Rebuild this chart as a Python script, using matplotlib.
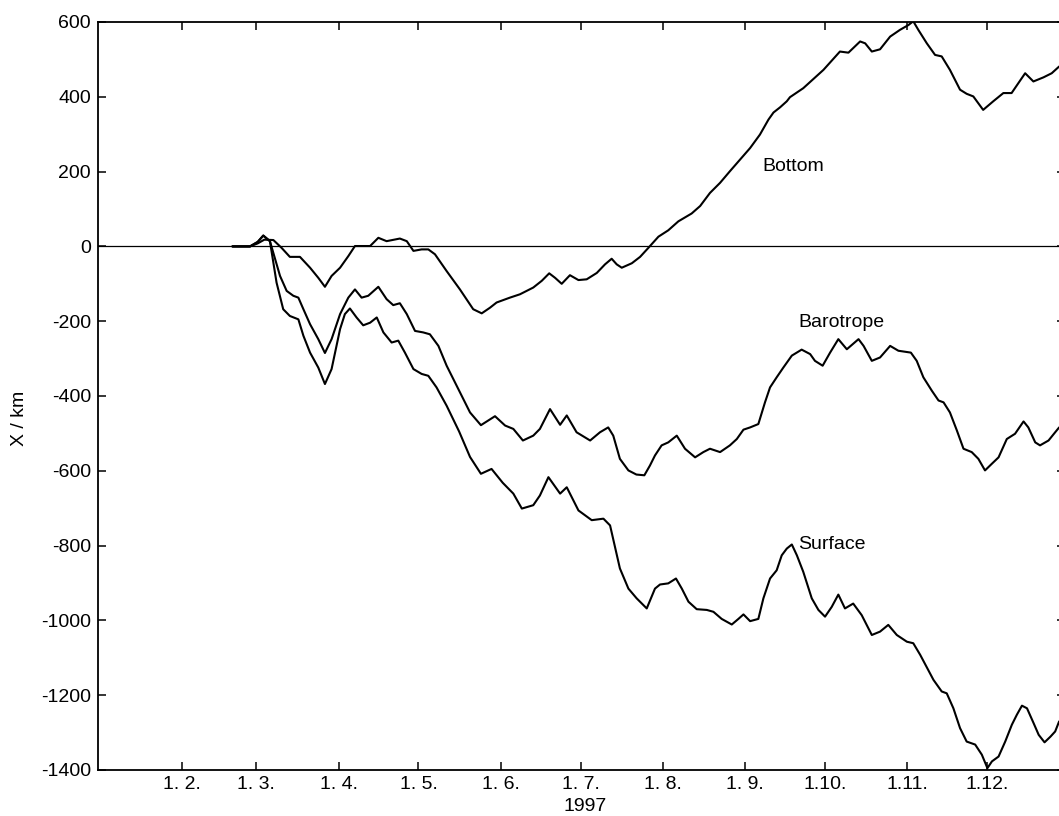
import matplotlib
matplotlib.use('Agg')
import matplotlib.pyplot as plt

# day of year 1997 (0 = 1 Jan), displacement X in km
bottom_day = [50, 56.6, 59.5, 62, 65.4, 68.5, 71.6, 75.4, 79.2, 82.3, 84.8, 87.3, 90.5, 93.6, 96.1,
              101.8, 104.9, 108.0, 113.0, 115.6, 118.1, 121.2, 123.7, 126.2, 130.6, 135.6, 140.6,
              143.8, 146.9, 149.4, 154.4, 158.2, 163.2, 166.4, 169.2, 171.4, 173.9, 177.0, 180.2,
              183.3, 187.1, 190.2, 192.7, 194.6, 196.5, 200.3, 203.4, 206.5, 210.3, 214.0, 217.8,
              222.8, 226.0, 229.7, 233.5, 237.2, 241.0, 244.8, 248.5, 251.7, 253.6, 256.1, 258.6,
              259.8, 264.8, 272.4, 278.6, 281.8, 286.2, 288.1, 290.6, 293.7, 297.5, 301.2, 304.4,
              306.2, 308.1, 311.3, 314.4, 316.9, 320.0, 323.8, 326.3, 328.8, 332.5, 336.3, 340.1,
              343.2, 345.7, 348.3, 351.4, 355.2, 358.3, 361.1]
bottom_x = [0, 0, 8, 18, 17, -4, -28, -28, -57, -84, -108, -79, -57, -26, 1,
            1, 23, 14, 21, 14, -12, -8, -8, -21, -66, -115, -168,
            -179, -164, -150, -137, -128, -110, -92, -72, -84, -100, -77, -90,
            -88, -71, -48, -33, -48, -57, -45, -28, -4, 26, 43, 67,
            88, 108, 143, 170, 201, 232, 263, 299, 339, 358, 372, 388,
            399, 423, 472, 521, 518, 548, 543, 521, 527, 561, 579, 592,
            602, 579, 543, 512, 508, 472, 419, 408, 401, 365, 388, 410,
            410, 436, 463, 441, 452, 463, 481]

baro_day = [50, 56.6, 59.5, 61.6, 64.1, 67.9, 70.4, 72.9, 74.8, 76.7, 79.2, 82.3, 84.8, 87.3, 90.5,
            93.6, 96.1, 98.6, 101.1, 104.9, 108.0, 110.5, 113.0, 115.6, 118.7, 121.8, 124.3, 127.5,
            130.6, 135.6, 139.4, 143.5, 148.8, 152.6, 155.7, 159.3, 163.2, 165.7, 169.5, 173.3,
            175.8, 179.5, 184.6, 188.3, 191.4, 193.3, 195.8, 199.0, 202.0, 205.0, 207.1, 209.0,
            211.5, 214.0, 217.2, 220.3, 224.1, 227.2, 229.7, 233.5, 237.2, 239.8, 242.3, 244.8,
            247.9, 250.4, 252.3, 254.8, 257.3, 260.5, 264.2, 267.4, 269.2, 272.1, 274.9, 278.0,
            281.2, 285.6, 287.5, 290.6, 293.7, 297.5, 300.6, 305.3, 307.5, 310.0, 313.2, 315.7,
            317.6, 320.0, 322.6, 325.1, 328.2, 330.7, 333.2, 335.8, 338.3, 341.4, 344.5, 347.7,
            349.5, 352.1, 353.9, 357.1, 359.6, 361.1]
baro_x = [0, 0, 12, 29, 14, -79, -119, -132, -137, -168, -208, -248, -285, -248, -181,
          -137, -115, -137, -132, -108, -141, -157, -152, -181, -226, -230, -235, -266,
          -319, -390, -444, -478, -454, -479, -488, -519, -506, -488, -435, -477,
          -452, -497, -519, -497, -484, -506, -568, -599, -610, -612, -586, -559,
          -532, -524, -506, -541, -564, -550, -541, -550, -532, -515, -490, -484,
          -475, -417, -377, -350, -324, -292, -276, -288, -306, -319, -284, -248,
          -275, -248, -266, -306, -297, -266, -279, -284, -306, -350, -386, -412,
          -417, -444, -492, -541, -550, -568, -599, -581, -564, -515, -501, -468,
          -484, -524, -532, -519, -497, -484]

surf_day = [50, 56.6, 59.5, 61.6, 64.1, 66.6, 69.1, 71.6, 74.8, 76.7, 79.2, 82.3, 84.8, 87.3, 90.5,
            92.3, 94.2, 96.7, 99.2, 101.8, 104.3, 106.8, 109.9, 112.4, 114.9, 118.1, 121.2, 123.7,
            126.8, 130.6, 135.3, 139.4, 143.5, 147.5, 151.7, 155.7, 158.9, 163.2, 165.7, 168.9,
            173.3, 175.8, 180.2, 185.2, 189.6, 192.1, 195.8, 199.0, 202.1, 205.9, 209.0, 210.9,
            214.0, 216.9, 219.1, 221.6, 224.7, 228.5, 231.0, 234.1, 237.9, 240.4, 242.3, 244.8,
            247.9, 249.8, 252.3, 254.8, 256.7, 258.6, 260.5, 262.4, 264.8, 268.0, 270.5, 273.0,
            275.5, 278.0, 280.5, 283.6, 286.8, 290.6, 293.7, 296.8, 300.0, 303.8, 306.2, 308.8,
            313.8, 316.9, 318.8, 321.3, 323.8, 326.3, 329.5, 332.0, 334.1, 335.8, 338.3, 340.8,
            343.3, 345.2, 347.1, 349.0, 351.5, 353.4, 355.6, 357.8, 359.6, 361.1]
surf_x = [0, 0, 12, 29, 14, -97, -168, -186, -195, -239, -284, -324, -368, -328, -221,
          -181, -166, -190, -211, -204, -190, -230, -257, -252, -284, -328, -341, -346,
          -377, -426, -495, -563, -608, -595, -632, -661, -701, -692, -666, -617,
          -661, -644, -706, -732, -728, -746, -861, -915, -941, -968, -915, -904,
          -901, -888, -915, -950, -970, -972, -977, -996, -1011, -996, -984, -1002,
          -996, -941, -888, -866, -826, -808, -797, -826, -870, -941, -972, -990,
          -964, -931, -968, -955, -986, -1039, -1030, -1012, -1039, -1057, -1061, -1092,
          -1159, -1190, -1195, -1235, -1288, -1324, -1332, -1359, -1395, -1377, -1364, -1324,
          -1279, -1252, -1228, -1235, -1275, -1306, -1326, -1311, -1297, -1270]

month_days = [31, 59, 90, 120, 151, 181, 212, 243, 273, 304, 334]
month_labels = ['1. 2.', '1. 3.', '1. 4.', '1. 5.', '1. 6.', '1. 7.', '1. 8.', '1. 9.',
                '1.10.', '1.11.', '1.12.']
y_ticks = [600, 400, 200, 0, -200, -400, -600, -800, -1000, -1200, -1400]

plt.rcParams['font.family'] = ['Liberation Sans', 'DejaVu Sans']
plt.rcParams['font.size'] = 14
plt.rcParams['axes.unicode_minus'] = False

W, H = 1059, 816
fig = plt.figure(figsize=(W / 100, H / 100), dpi=100)
ax = fig.add_axes([98 / W, 1 - 770 / H, (1065 - 98) / W, 748 / H])

ax.axhline(0, color='black', lw=0.9)
for d, v in [(bottom_day, bottom_x), (baro_day, baro_x), (surf_day, surf_x)]:
    ax.plot(d, v, color='black', lw=1.5, solid_joinstyle='round', solid_capstyle='round')

ax.text(249.3, 213, 'Bottom', ha='left', va='center')
ax.text(262.8, -203, 'Barotrope', ha='left', va='center')
ax.text(262.8, -797, 'Surface', ha='left', va='center')

ax.set_xlim(-0.6, 363.3)
ax.set_ylim(-1400, 600)
ax.set_xticks(month_days)
ax.set_xticklabels(month_labels)
ax.set_yticks(y_ticks)
ax.tick_params(direction='in', length=6, width=1.1, top=True, right=True, pad=5)
ax.tick_params(axis='x', pad=4)
for s in ax.spines.values():
    s.set_linewidth(1.3)

ax.set_xlabel('1997')
ax.xaxis.set_label_coords(0.504, -0.0375)
ax.set_ylabel('X / km')
ax.yaxis.set_label_coords(-0.072, 0.47)

fig.savefig('out.png', dpi=100)
